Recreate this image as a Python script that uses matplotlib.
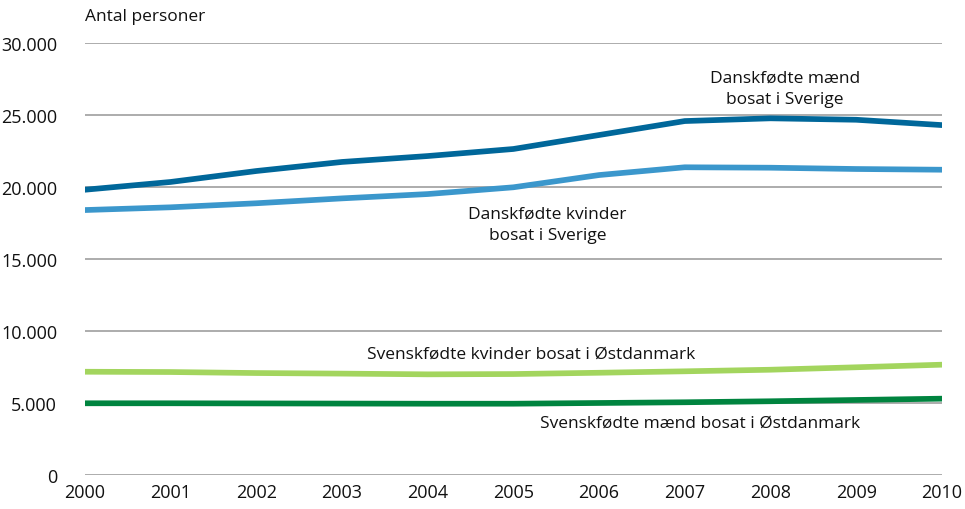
import matplotlib.pyplot as plt
from matplotlib.ticker import FuncFormatter

plt.rcParams['font.family'] = ['Open Sans', 'DejaVu Sans']

# Antal personer pr. år
years = [2000, 2001, 2002, 2003, 2004, 2005, 2006, 2007, 2008, 2009, 2010]
dk_maend_se = [19810, 20350, 21110, 21740, 22150, 22640, 23610, 24580, 24770, 24670, 24300]
dk_kvinder_se = [18400, 18590, 18870, 19210, 19510, 19980, 20830, 21370, 21340, 21250, 21200]
se_kvinder_dk = [7170, 7150, 7080, 7040, 6990, 7010, 7100, 7200, 7310, 7480, 7660]
se_maend_dk = [4980, 4980, 4970, 4960, 4950, 4950, 5000, 5050, 5120, 5210, 5300]

yticks = [0, 5000, 10000, 15000, 20000, 25000, 30000]

fig = plt.figure(figsize=(9.65, 5.10), dpi=100)
ax = fig.add_axes([0.088, 0.0667, 0.888, 0.847])

ax.set_yticks(yticks)
ax.grid(axis='y', color='#a6a6a6', linewidth=1.3)
ax.set_axisbelow(True)

lw = 4.1
ax.plot(years, dk_maend_se, color='#00679a', linewidth=lw, solid_capstyle='round')
ax.plot(years, dk_kvinder_se, color='#3b97cc', linewidth=lw, solid_capstyle='round')
ax.plot(years, se_kvinder_dk, color='#a3d55e', linewidth=lw, solid_capstyle='round')
ax.plot(years, se_maend_dk, color='#00843f', linewidth=lw, solid_capstyle='round')

ax.set_xlim(2000, 2010)
ax.set_ylim(0, 30000)
ax.set_xticks(years)
ax.yaxis.set_major_formatter(FuncFormatter(lambda v, p: f'{int(v):,}'.replace(',', '.')))
ax.tick_params(length=0, labelsize=13, colors='#111111')
ax.tick_params(axis='y', pad=20)
ax.tick_params(axis='x', pad=6)
for s in ax.spines.values():
    s.set_visible(False)

fs = 12.5
tc = '#111111'
ax.text(2000, 31300, 'Antal personer', fontsize=fs, ha='left', va='bottom', color=tc)
ax.text(2008.17, 26875, 'Danskfødte mænd\nbosat i Sverige', fontsize=fs, ha='center', va='center',
        linespacing=1.45, color=tc)
ax.text(2005.40, 17430, 'Danskfødte kvinder\nbosat i Sverige', fontsize=fs, ha='center', va='center',
        linespacing=1.45, color=tc)
ax.text(2005.21, 8400, 'Svenskfødte kvinder bosat i Østdanmark', fontsize=fs, ha='center', va='center',
        color=tc)
ax.text(2007.18, 3610, 'Svenskfødte mænd bosat i Østdanmark', fontsize=fs, ha='center', va='center',
        color=tc)

fig.savefig('out.png', dpi=100)
